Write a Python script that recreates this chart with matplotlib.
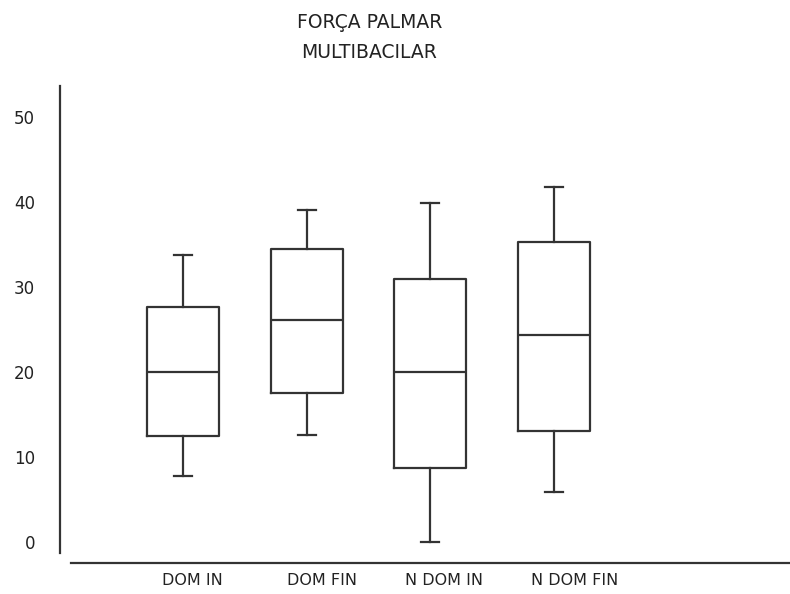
import matplotlib
matplotlib.use("Agg")
import matplotlib.pyplot as plt
from matplotlib.transforms import ScaledTranslation

# Data
categories = ["DOM IN", "DOM FIN", "N DOM IN", "N DOM FIN"]
whisker_low = [7.8, 12.6, 0.0, 5.9]
q1_values = [12.5, 17.5, 8.7, 13.1]
medians = [20.0, 26.1, 20.0, 24.3]
q3_values = [27.6, 34.5, 31.0, 35.3]
whisker_high = [33.8, 39.1, 39.9, 41.8]
yticks = [0, 10, 20, 30, 40, 50]
title_lines = ["FORÇA PALMAR", "MULTIBACILAR"]

W, H, DPI = 790, 594, 100
fig = plt.figure(figsize=(W / DPI, H / DPI), dpi=DPI)
fig.patch.set_facecolor("white")

# axes placed in pixel terms
ax_left_px, ax_right_px = 59.5, 790
ax_top_px, ax_bot_px = 86, 563
ax = fig.add_axes([ax_left_px / W, 1 - ax_bot_px / H,
                   (ax_right_px - ax_left_px) / W, (ax_bot_px - ax_top_px) / H])
ax.set_facecolor("white")

line_col = "#333333"
text_col = "#222222"

stats = []
for lab, lo, q1, med, q3, hi in zip(categories, whisker_low, q1_values, medians, q3_values, whisker_high):
    stats.append(dict(label=lab, whislo=lo, q1=q1, med=med, q3=q3, whishi=hi, fliers=[]))

positions = list(range(1, len(categories) + 1))
lw = 1.6
ax.bxp(stats, positions=positions, widths=0.58, capwidths=0.145, showfliers=False,
       boxprops=dict(color=line_col, linewidth=lw),
       medianprops=dict(color=line_col, linewidth=lw),
       whiskerprops=dict(color=line_col, linewidth=lw),
       capprops=dict(color=line_col, linewidth=lw))

ax.set_xlim(0, 5.91)
ax.set_ylim(-2.47, 53.65)

for s in ["top", "right"]:
    ax.spines[s].set_visible(False)
ax.spines["left"].set_color(line_col)
ax.spines["left"].set_linewidth(1.6)
ax.spines["left"].set_bounds(-1.29, 53.65)
ax.spines["bottom"].set_color(line_col)
ax.spines["bottom"].set_linewidth(1.6)
ax.spines["bottom"].set_bounds(0.09, 5.91)

ax.set_yticks(yticks)
ax.set_yticklabels([str(t) for t in yticks], fontsize=12, color=text_col)
ax.tick_params(axis="y", length=0, pad=17.5)

ax.set_xticks(positions)
ax.set_xticklabels(categories, fontsize=11.5, color=text_col)
ax.tick_params(axis="x", length=0, pad=7)
offsets_px = [9, 15, 13.5, 21]
for lbl, dx in zip(ax.get_xticklabels(), offsets_px):
    lbl.set_transform(lbl.get_transform() + ScaledTranslation(dx / DPI, 0, fig.dpi_scale_trans))

fig.text(370 / W, 1 - 22 / H, title_lines[0], ha="center", va="center", fontsize=13.5, color=text_col)
fig.text(369 / W, 1 - 53 / H, title_lines[1], ha="center", va="center", fontsize=13.5, color=text_col)

fig.savefig("out.png", dpi=DPI, facecolor="white")
